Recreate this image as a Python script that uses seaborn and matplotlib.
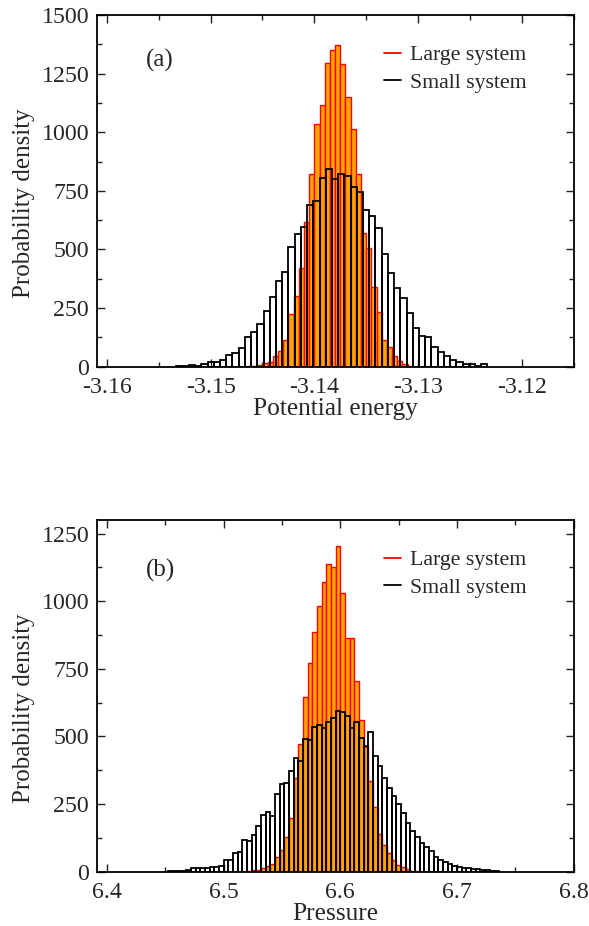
import numpy as np
import pandas as pd
import seaborn as sns
import matplotlib.pyplot as plt
from matplotlib.lines import Line2D
from matplotlib.ticker import MultipleLocator

# (a) potential energy: bin layout and probability density
energy_large_start = -3.1465
energy_large_width = 0.0005
energy_large = [3, 4, 7, 17, 21, 47, 68, 114, 223, 303, 419, 616, 820, 1035, 1116,
                1294, 1351, 1372, 1291, 1152, 1012, 820, 571, 505, 341, 235, 114,
                85, 44, 25, 10, 3]

energy_small_start = -3.1533
energy_small_width = 0.0006
energy_small = [5, 5, 8, 5, 12, 18, 18, 27, 48, 57, 81, 127, 149, 182, 239, 299,
                365, 402, 509, 566, 597, 691, 708, 806, 845, 800, 820, 815, 768,
                744, 668, 643, 590, 481, 398, 334, 291, 230, 166, 132, 128, 85, 61,
                44, 30, 20, 12, 10, 5, 10]

# (b) pressure
pressure_large_start = 6.520
pressure_large_width = 0.004
pressure_large = [3, 5, 8, 12, 20, 30, 55, 80, 129, 200, 345, 472, 647, 770, 887,
                  983, 1072, 1136, 1125, 1203, 1032, 865, 864, 706, 560, 462, 336,
                  240, 138, 98, 70, 43, 25, 17, 9, 4, 2]

pressure_small_start = 6.452
pressure_small_width = 0.004
pressure_small = [1, 4, 2, 3, 6, 12, 14, 12, 15, 16, 19, 23, 43, 45, 70, 74, 118,
                  112, 137, 169, 210, 220, 206, 289, 324, 329, 371, 419, 409, 491,
                  488, 534, 544, 530, 554, 569, 595, 590, 574, 530, 554, 496, 465,
                  518, 427, 389, 348, 309, 281, 249, 218, 181, 150, 130, 105, 93,
                  76, 55, 43, 37, 30, 23, 16, 15, 15, 10, 10, 5, 5, 4, 3]


def hist_from(ax, start, width, values, **kw):
    n = len(values)
    centers = start + width * (np.arange(n) + 0.5)
    df = pd.DataFrame({'x': centers, 'w': np.asarray(values, dtype=float)})
    sns.histplot(data=df, x='x', weights='w', binwidth=width,
                 binrange=(start, start + n * width), ax=ax, stat='count', **kw)


sns.set_style('ticks')
plt.rcParams['font.family'] = ['Liberation Serif', 'DejaVu Serif']

fig = plt.figure(figsize=(5.89, 9.26), dpi=100)
ax1 = fig.add_axes([0.164, 0.604, 0.8097, 0.3798])
ax2 = fig.add_axes([0.164, 0.0586, 0.8097, 0.3798])

panels = [
    (ax1, energy_large_start, energy_large_width, energy_large,
     energy_small_start, energy_small_width, energy_small,
     (-3.161, -3.115), (0, 1500), 0.01, 0.005, 'Potential energy', '(a)', (-3.1549, 1305)),
    (ax2, pressure_large_start, pressure_large_width, pressure_large,
     pressure_small_start, pressure_small_width, pressure_small,
     (6.391, 6.8), (0, 1300), 0.1, 0.05, 'Pressure', '(b)', (6.4454, 1112)),
]

for (ax, ls, lw, lv, ss, sw, sv, xlim, ylim, xmaj, xmin, xlabel, tag, tagpos) in panels:
    hist_from(ax, ls, lw, lv, color='orange', edgecolor='red', linewidth=1.0, alpha=1)
    hist_from(ax, ss, sw, sv, color='black', fill=False, linewidth=1.3)
    ax.set_xlim(*xlim)
    ax.set_ylim(*ylim)
    ax.xaxis.set_major_locator(MultipleLocator(xmaj))
    ax.xaxis.set_minor_locator(MultipleLocator(xmin))
    ax.yaxis.set_major_locator(MultipleLocator(250))
    ax.yaxis.set_minor_locator(MultipleLocator(125))
    ax.tick_params(which='both', direction='in', top=True, right=True, labelsize=17.2,
                   width=1.0, color='#222222')
    ax.tick_params(axis='x', which='both', pad=7.5)
    ax.tick_params(axis='y', which='both', pad=5.3)
    ax.tick_params(which='major', length=6)
    ax.tick_params(which='minor', length=3.5)
    for sp in ax.spines.values():
        sp.set_linewidth(1.3)
        sp.set_color('black')
    ax.set_xlabel(xlabel, fontsize=18.3, labelpad=0)
    ax.set_ylabel('Probability density', fontsize=18)
    ax.yaxis.set_label_coords(-0.129, 0.4655)
    ax.text(tagpos[0], tagpos[1], tag, fontsize=18, ha='center', va='center')
    handles = [Line2D([], [], color='red', lw=1.3), Line2D([], [], color='black', lw=1.3)]
    ax.legend(handles, ['Large system', 'Small system'], loc='upper left',
              bbox_to_anchor=(0.603, 0.915), frameon=False, fontsize=15.7,
              handlelength=0.75, handletextpad=0.45, labelspacing=0.33, borderpad=0,
              borderaxespad=0)

xt = [-3.16, -3.15, -3.14, -3.13, -3.12]
ax1.set_xticks(xt)
ax1.set_xticklabels(['%.2f' % v for v in xt])
ax1.set_xlim(-3.161, -3.115)

fig.savefig('out.png', dpi=100)
